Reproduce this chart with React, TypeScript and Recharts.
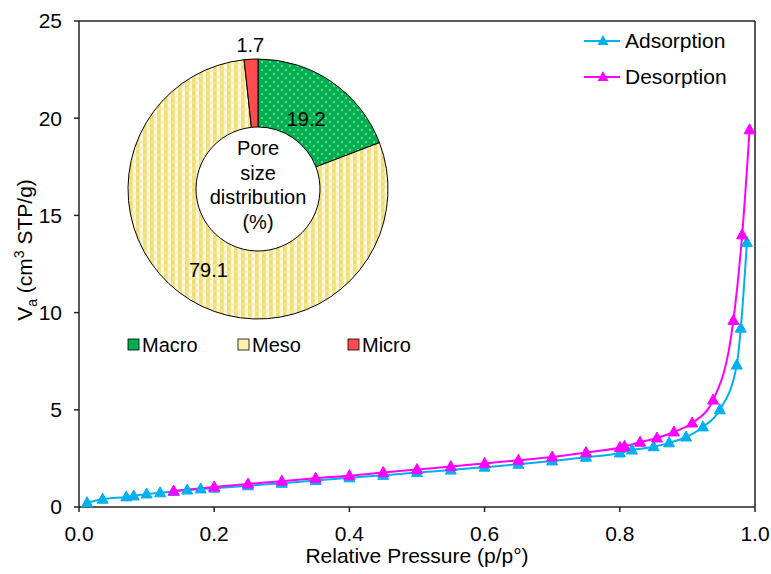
import React from 'react';
import {
    LineChart, Line, XAxis, YAxis, ReferenceLine,
    PieChart, Pie, Cell,
} from 'recharts';

// isotherm readings (relative pressure p/p°, adsorbed volume cm3 STP/g)
const adsorptionP = [0.012, 0.035, 0.07, 0.081, 0.1, 0.12, 0.14, 0.16, 0.18, 0.2, 0.25, 0.3, 0.35, 0.4, 0.45, 0.5, 0.55, 0.6, 0.65, 0.7, 0.75, 0.8, 0.818, 0.85, 0.873, 0.898, 0.923, 0.948, 0.973, 0.979, 0.988];
const adsorptionV = [0.22, 0.4, 0.52, 0.57, 0.67, 0.73, 0.8, 0.87, 0.93, 0.97, 1.09, 1.22, 1.36, 1.5, 1.63, 1.77, 1.9, 2.05, 2.2, 2.37, 2.56, 2.78, 2.93, 3.1, 3.3, 3.6, 4.12, 5.0, 7.3, 9.2, 13.6];

const desorptionP = [0.14, 0.2, 0.25, 0.3, 0.35, 0.4, 0.45, 0.5, 0.55, 0.6, 0.65, 0.7, 0.75, 0.8, 0.807, 0.83, 0.855, 0.88, 0.907, 0.938, 0.968, 0.981, 0.992];
const desorptionV = [0.82, 1.03, 1.18, 1.33, 1.48, 1.61, 1.78, 1.93, 2.08, 2.24, 2.4, 2.57, 2.8, 3.06, 3.12, 3.33, 3.55, 3.86, 4.32, 5.5, 9.6, 14.0, 19.4];

const xTicks = [0, 0.2, 0.4, 0.6, 0.8, 1.0];
const yTicks = [0, 5, 10, 15, 20, 25];

// pore size distribution (%)
const poreCategories = ['Macro', 'Meso', 'Micro'];
const poreValues = [19.2, 79.1, 1.7];

const seriesNames = ['Adsorption', 'Desorption'];

const ADS_COLOR = '#00B0F0';
const DES_COLOR = '#FF00FF';
const AXIS_COLOR = '#222';
const FONT = 'Arial, "Liberation Sans", sans-serif';

const adsorptionData = adsorptionP.map((p, i) => ({ p, v: adsorptionV[i] }));
const desorptionData = desorptionP.map((p, i) => ({ p, v: desorptionV[i] }));
const poreData = poreCategories.map((name, i) => ({ name, value: poreValues[i] }));

const poreFills = ['url(#macroPattern)', 'url(#mesoPattern)', '#FF4B4B'];
const poreSwatch = ['#00B050', '#FFF2B0', '#FF4B4B'];
const labelRadius = [85, 95, 144];

const triangle = (color: string) => (props: any) => {
    const { cx, cy, index } = props;
    if (cx == null || cy == null) return <g key={index} />;
    return (
        <polygon
            key={index}
            points={`${cx},${cy - 6} ${cx - 5.5},${cy + 4} ${cx + 5.5},${cy + 4}`}
            fill={color}
            stroke={color}
            strokeWidth={1}
        />
    );
};

const MainLegend = () => (
    <svg width={190} height={80} style={{ position: 'absolute', left: 578, top: 22 }}>
        {seriesNames.map((name, i) => {
            const color = i === 0 ? ADS_COLOR : DES_COLOR;
            const y = 19 + i * 36;
            return (
                <g key={name}>
                    <line x1={6} x2={42} y1={y} y2={y} stroke={color} strokeWidth={2} />
                    <polygon points={`25,${y - 6} 19.5,${y + 4} 30.5,${y + 4}`} fill={color} />
                    <text x={47} y={y + 7} fontSize={21} fontFamily={FONT} fill="#000">{name}</text>
                </g>
            );
        })}
    </svg>
);

const PoreLegend = () => (
    <svg width={320} height={26} style={{ position: 'absolute', left: 108, top: 333 }}>
        {poreCategories.map((name, i) => {
            const x = [20, 130, 240][i];
            return (
                <g key={name}>
                    <rect x={x} y={6} width={11} height={11} fill={poreSwatch[i]} stroke="#000" strokeWidth={0.8} />
                    <text x={x + 14} y={19} fontSize={20} fontFamily={FONT} fill="#000">{name}</text>
                </g>
            );
        })}
    </svg>
);

const renderPieLabel = (props: any) => {
    const { cx, cy, midAngle, index, value } = props;
    const r = labelRadius[index];
    const rad = (-midAngle * Math.PI) / 180;
    const x = cx + r * Math.cos(rad);
    const y = cy + r * Math.sin(rad);
    return (
        <text key={index} x={x} y={y + 7} textAnchor="middle" fontSize={20} fontFamily={FONT} fill="#000">
            {value.toFixed(1)}
        </text>
    );
};

const renderYLabel = () => (
    <text x={32} y={250} transform="rotate(-90, 32, 250)" textAnchor="middle" fontSize={21} fontFamily={FONT} fill="#000">
        <tspan>V</tspan>
        <tspan dy={5} fontSize={14}>a</tspan>
        <tspan dy={-5}> (cm</tspan>
        <tspan dy={-8} fontSize={14}>3</tspan>
        <tspan dy={8}> STP/g)</tspan>
    </text>
);

const renderXLabel = () => (
    <text x={417} y={563} textAnchor="middle" fontSize={21} fontFamily={FONT} fill="#000">
        Relative Pressure (p/p°)
    </text>
);

const App: React.FC = () => {
    const centerLines = ['Pore', 'size', 'distribution', '(%)'];
    return (
        <div style={{ position: 'absolute', left: 0, top: 0, width: 771, height: 574, background: '#fff' }}>
            <svg width={0} height={0} style={{ position: 'absolute' }}>
                <defs>
                    <pattern id="macroPattern" width={8} height={8} patternUnits="userSpaceOnUse">
                        <rect width={8} height={8} fill="#00B050" />
                        <circle cx={2} cy={2} r={0.9} fill="#8FE8B8" />
                        <circle cx={6} cy={6} r={0.9} fill="#8FE8B8" />
                    </pattern>
                    <pattern id="mesoPattern" width={7} height={6.5} patternUnits="userSpaceOnUse">
                        <rect width={7} height={6.5} fill="#FBF1C0" />
                        <rect x={0} y={0} width={3.5} height={6.5} fill="#EEDD70" />
                        <rect x={0} y={3.5} width={3.5} height={3} fill="#F4E490" />
                        <rect x={4.5} y={0} width={2.5} height={3.2} fill="#FFFDF0" />
                    </pattern>
                </defs>
            </svg>

            <LineChart width={771} height={574} margin={{ top: 21, right: 16, bottom: 0, left: 0 }}>
                <XAxis
                    type="number"
                    dataKey="p"
                    domain={[0, 1]}
                    ticks={xTicks}
                    tickFormatter={(v: number) => v.toFixed(1)}
                    height={67}
                    tickSize={5}
                    tickMargin={14}
                    axisLine={{ stroke: AXIS_COLOR, strokeWidth: 1.5 }}
                    tickLine={{ stroke: AXIS_COLOR, strokeWidth: 1.5 }}
                    tick={{ fontSize: 21, fill: '#000', fontFamily: FONT }}
                    label={{ content: renderXLabel }}
                />
                <YAxis
                    type="number"
                    domain={[0, 25]}
                    ticks={yTicks}
                    width={79}
                    tickSize={5}
                    tickMargin={12}
                    axisLine={{ stroke: AXIS_COLOR, strokeWidth: 1.5 }}
                    tickLine={{ stroke: AXIS_COLOR, strokeWidth: 1.5 }}
                    tick={{ fontSize: 21, fill: '#000', fontFamily: FONT }}
                    label={{ content: renderYLabel }}
                />
                <ReferenceLine y={25} stroke={AXIS_COLOR} strokeWidth={1.5} />
                <ReferenceLine x={1} stroke={AXIS_COLOR} strokeWidth={1.5} />
                <Line
                    data={adsorptionData}
                    dataKey="v"
                    name="Adsorption"
                    type="monotone"
                    stroke={ADS_COLOR}
                    strokeWidth={2}
                    dot={triangle(ADS_COLOR)}
                    activeDot={false}
                    isAnimationActive={false}
                />
                <Line
                    data={desorptionData}
                    dataKey="v"
                    name="Desorption"
                    type="monotone"
                    stroke={DES_COLOR}
                    strokeWidth={2}
                    dot={triangle(DES_COLOR)}
                    activeDot={false}
                    isAnimationActive={false}
                />
            </LineChart>

            <MainLegend />

            <div style={{ position: 'absolute', left: 108, top: 20, pointerEvents: 'none' }}>
                <PieChart width={300} height={330} margin={{ top: 0, right: 0, bottom: 0, left: 0 }}>
                    <Pie
                        data={poreData}
                        dataKey="value"
                        nameKey="name"
                        cx={150}
                        cy={169}
                        innerRadius={62}
                        outerRadius={130}
                        startAngle={90}
                        endAngle={-270}
                        stroke="#000"
                        strokeWidth={1}
                        label={renderPieLabel}
                        labelLine={false}
                        isAnimationActive={false}
                    >
                        {poreData.map((d, i) => (
                            <Cell key={d.name} fill={poreFills[i]} />
                        ))}
                    </Pie>
                </PieChart>
                <svg width={300} height={330} style={{ position: 'absolute', left: 0, top: 0 }}>
                    {centerLines.map((t, i) => (
                        <text key={t} x={150} y={135 + i * 24.5} textAnchor="middle" fontSize={20} fontFamily={FONT} fill="#000">
                            {t}
                        </text>
                    ))}
                </svg>
            </div>

            <PoreLegend />
        </div>
    );
};

export default App;
